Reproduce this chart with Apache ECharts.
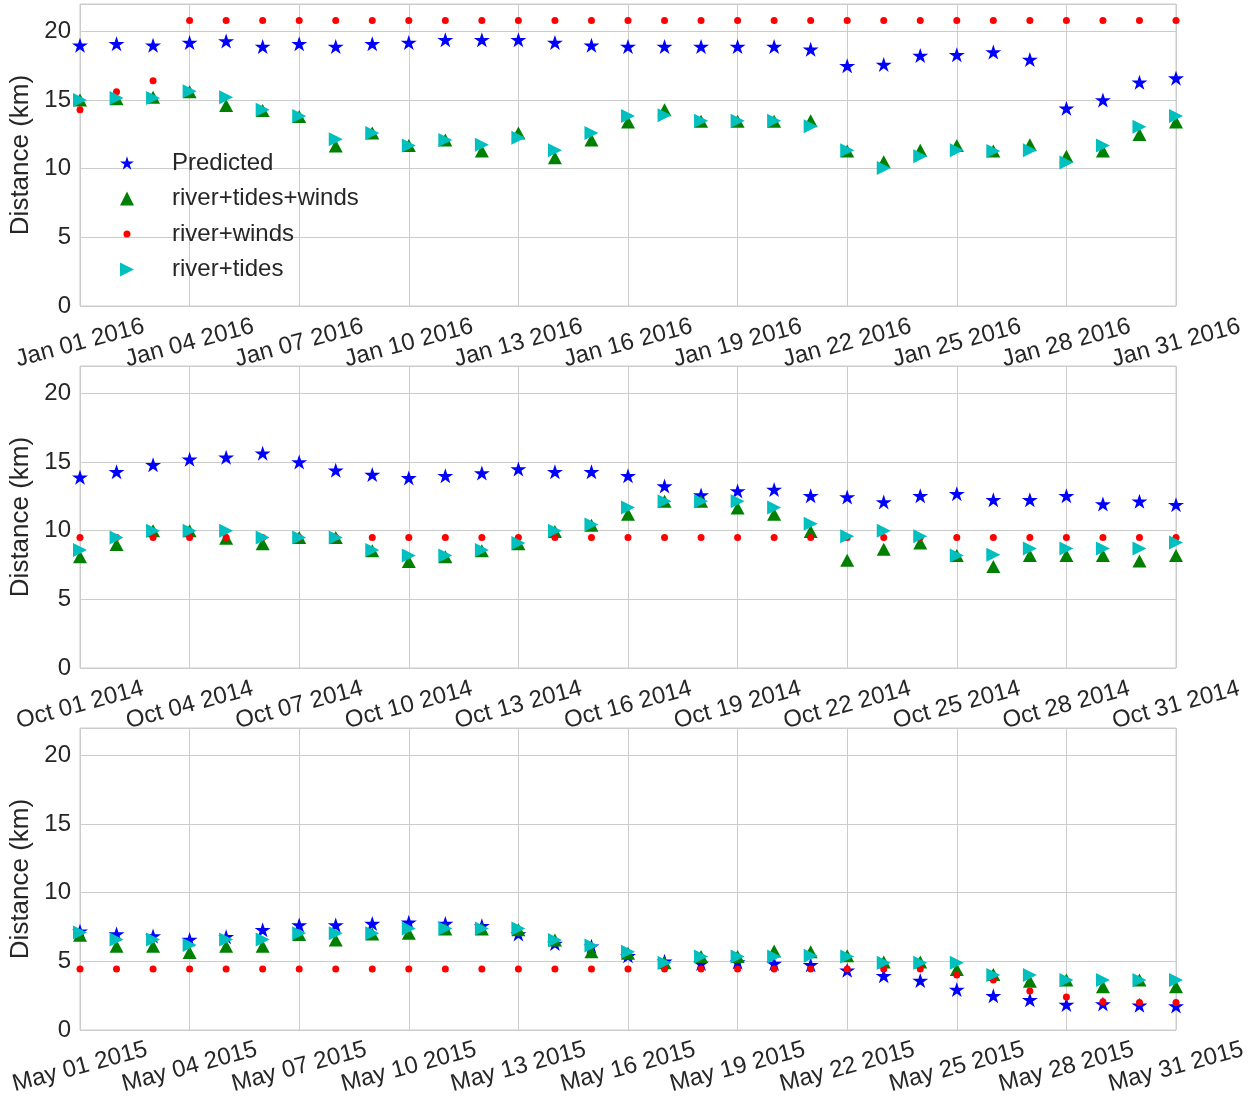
<!DOCTYPE html>
<html>
<head>
<meta charset="utf-8">
<script src="https://cdn.jsdelivr.net/npm/echarts@6/dist/echarts.min.js"></script>
<style>
html,body{margin:0;padding:0;background:#fff;}
#chart{width:1255px;height:1099px;}
</style>
</head>
<body>
<div id="chart"></div>
<script>
// ---- data ----
const dayOffset = [0,1,2,3,4,5,6,7,8,9,10,11,12,13,14,15,16,17,18,19,20,21,22,23,24,25,26,27,28,29,30];

const seriesNames = ['Predicted', 'river+tides+winds', 'river+winds', 'river+tides'];

const janTickLabels = ['Jan 01 2016','Jan 04 2016','Jan 07 2016','Jan 10 2016','Jan 13 2016','Jan 16 2016','Jan 19 2016','Jan 22 2016','Jan 25 2016','Jan 28 2016','Jan 31 2016'];
const octTickLabels = ['Oct 01 2014','Oct 04 2014','Oct 07 2014','Oct 10 2014','Oct 13 2014','Oct 16 2014','Oct 19 2014','Oct 22 2014','Oct 25 2014','Oct 28 2014','Oct 31 2014'];
const mayTickLabels = ['May 01 2015','May 04 2015','May 07 2015','May 10 2015','May 13 2015','May 16 2015','May 19 2015','May 22 2015','May 25 2015','May 28 2015','May 31 2015'];

const yTicks = [0, 5, 10, 15, 20];

// January 2016
const janPredicted = [19.0,19.1,19.0,19.2,19.3,18.9,19.1,18.9,19.1,19.2,19.4,19.4,19.4,19.2,19.0,18.9,18.9,18.9,18.9,18.9,18.7,17.5,17.6,18.25,18.3,18.5,17.95,14.4,15.0,16.3,16.6];
const janRiverTidesWinds = [15.0,15.1,15.2,15.6,14.6,14.25,13.8,11.65,12.6,11.7,12.1,11.3,12.6,10.8,12.1,13.4,14.3,13.45,13.45,13.45,13.5,11.3,10.5,11.35,11.7,11.3,11.75,10.9,11.3,12.5,13.4];
const janRiverWinds = [14.3,15.6,16.4,20.8,20.8,20.8,20.8,20.8,20.8,20.8,20.8,20.8,20.8,20.8,20.8,20.8,20.8,20.8,20.8,20.8,20.8,20.8,20.8,20.8,20.8,20.8,20.8,20.8,20.8,20.8,20.8];
const janRiverTides = [15.0,15.15,15.15,15.65,15.2,14.3,13.85,12.15,12.6,11.7,12.1,11.75,12.25,11.35,12.6,13.85,13.9,13.5,13.5,13.5,13.1,11.35,10.05,10.9,11.35,11.3,11.35,10.45,11.7,13.05,13.85];

// October 2014
const octPredicted = [13.9,14.3,14.8,15.2,15.35,15.65,15.0,14.4,14.1,13.85,14.0,14.2,14.5,14.3,14.3,14.0,13.25,12.6,12.9,13.0,12.55,12.45,12.1,12.55,12.7,12.25,12.25,12.55,11.95,12.15,11.9];
const octRiverTidesWinds = [8.1,9.0,10.0,10.0,9.45,9.05,9.5,9.5,8.55,7.75,8.1,8.55,9.05,9.95,10.4,11.2,12.15,12.15,11.65,11.2,9.95,7.85,8.65,9.1,8.2,7.4,8.2,8.2,8.2,7.8,8.2];
const octRiverWinds = [9.5,9.5,9.5,9.5,9.5,9.5,9.5,9.5,9.5,9.5,9.5,9.5,9.5,9.5,9.5,9.5,9.5,9.5,9.5,9.5,9.5,9.5,9.5,9.5,9.5,9.5,9.5,9.5,9.5,9.5,9.5];
const octRiverTides = [8.6,9.5,10.0,10.0,10.0,9.5,9.5,9.5,8.6,8.2,8.2,8.6,9.1,10.0,10.45,11.7,12.15,12.15,12.15,11.7,10.5,9.6,10.0,9.6,8.2,8.25,8.7,8.7,8.7,8.7,9.15];

// May 2015
const mayPredicted = [7.2,7.0,6.85,6.6,6.8,7.3,7.65,7.65,7.75,7.85,7.75,7.6,7.0,6.3,6.1,5.4,5.0,4.85,4.95,4.85,4.75,4.35,3.95,3.6,2.95,2.5,2.2,1.85,1.9,1.8,1.75];
const mayRiverTidesWinds = [6.9,6.1,6.1,5.65,6.1,6.1,6.95,6.55,7.0,7.05,7.35,7.35,7.3,6.55,5.7,5.6,4.9,5.35,5.35,5.75,5.7,5.4,4.95,4.95,4.4,4.05,3.55,3.65,3.15,3.65,3.15];
const mayRiverWinds = [4.45,4.45,4.45,4.45,4.45,4.45,4.45,4.45,4.45,4.45,4.45,4.45,4.45,4.45,4.45,4.45,4.45,4.45,4.45,4.45,4.45,4.45,4.45,4.45,4.0,3.65,2.85,2.4,2.05,2.0,2.0];
const mayRiverTides = [7.1,6.6,6.6,6.2,6.6,6.6,7.05,7.05,7.05,7.4,7.4,7.4,7.4,6.55,6.15,5.7,4.9,5.35,5.35,5.35,5.4,5.35,4.9,4.9,4.9,4.0,4.0,3.65,3.65,3.65,3.65];

// ---- styling ----
const FONT = "'Liberation Sans', Arial, sans-serif";
const TEXT = '#262626';
const GRIDC = '#cccccc';
const STAR = 'path://M50,0L61.2,34.59L97.55,34.55L68.12,55.89L79.39,90.45L50,69.05L20.61,90.45L31.88,55.89L2.45,34.55L38.8,34.59Z';
const TRI_UP = 'path://M5,0L10,10L0,10Z';
const TRI_RIGHT = 'path://M0,0L10,5L0,10Z';
const SMALL_DOT = 'path://M0,0M14,14M7,3.5A3.5,3.5,0,1,1,6.99,3.5Z';

const panels = [
  {top: 4, ticks: janTickLabels, data: [janPredicted, janRiverTidesWinds, janRiverWinds, janRiverTides]},
  {top: 366, ticks: octTickLabels, data: [octPredicted, octRiverTidesWinds, octRiverWinds, octRiverTides]},
  {top: 728, ticks: mayTickLabels, data: [mayPredicted, mayRiverTidesWinds, mayRiverWinds, mayRiverTides]}
];

const styles = [
  {symbol: STAR, size: [16, 15], color: '#0000ff'},
  {symbol: TRI_UP, size: [14, 13], color: '#008000'},
  {symbol: 'circle', size: 7, color: '#ff0000'},
  {symbol: TRI_RIGHT, size: [14, 14], color: '#00bfbf'}
];

const grids = [], xAxes = [], yAxes = [], series = [];
panels.forEach((p, pi) => {
  grids.push({left: 80, right: 79, top: p.top, height: 302, containLabel: false, outerBoundsMode: 'none',
    show: true, borderColor: GRIDC, borderWidth: 1, backgroundColor: '#fff'});
  xAxes.push({
    type: 'value', gridIndex: pi, min: 0, max: 30, interval: 3,
    axisLine: {show: false}, axisTick: {show: false},
    splitLine: {show: true, lineStyle: {color: GRIDC, width: 1}},
    axisLabel: {
      rotate: 15, align: 'center', verticalAlign: 'middle', margin: 37,
      fontSize: 24, color: TEXT, fontFamily: FONT,
      formatter: v => p.ticks[Math.round(v / 3)] || ''
    }
  });
  yAxes.push({
    type: 'value', gridIndex: pi, min: 0, max: 22, interval: 5,
    name: 'Distance (km)', nameLocation: 'middle', nameGap: 46, nameRotate: 90,
    nameTextStyle: {fontSize: 26, color: TEXT, fontFamily: FONT},
    axisLine: {show: false}, axisTick: {show: false},
    splitLine: {show: true, lineStyle: {color: GRIDC, width: 1}},
    axisLabel: {
      showMaxLabel: false, margin: 9, fontSize: 24, color: TEXT, fontFamily: FONT,
      formatter: v => (yTicks.indexOf(v) >= 0 ? String(v) : '')
    }
  });
  p.data.forEach((arr, si) => {
    const st = styles[si];
    series.push({
      type: 'scatter', name: seriesNames[si], xAxisIndex: pi, yAxisIndex: pi,
      symbol: st.symbol, symbolSize: st.size,
      itemStyle: {color: st.color, opacity: 1},
      z: 2 + si,
      data: dayOffset.map((d, i) => [d, arr[i]])
    });
  });
});

const chart = echarts.init(document.getElementById('chart'), null, {renderer: 'canvas'});
chart.setOption({
  animation: false,
  backgroundColor: '#ffffff',
  textStyle: {fontFamily: FONT, color: TEXT},
  grid: grids,
  xAxis: xAxes,
  yAxis: yAxes,
  legend: {
    orient: 'vertical', left: 115, top: 146,
    itemWidth: 14, itemHeight: 14, itemGap: 11.5,
    selectedMode: false,
    textStyle: {fontSize: 24, color: TEXT, fontFamily: FONT, lineHeight: 24, padding: [0, 0, 0, 33]},
    data: [
      {name: 'Predicted', icon: STAR},
      {name: 'river+tides+winds', icon: TRI_UP},
      {name: 'river+winds', icon: SMALL_DOT},
      {name: 'river+tides', icon: TRI_RIGHT}
    ]
  },
  series: series
});
</script>
</body>
</html>
